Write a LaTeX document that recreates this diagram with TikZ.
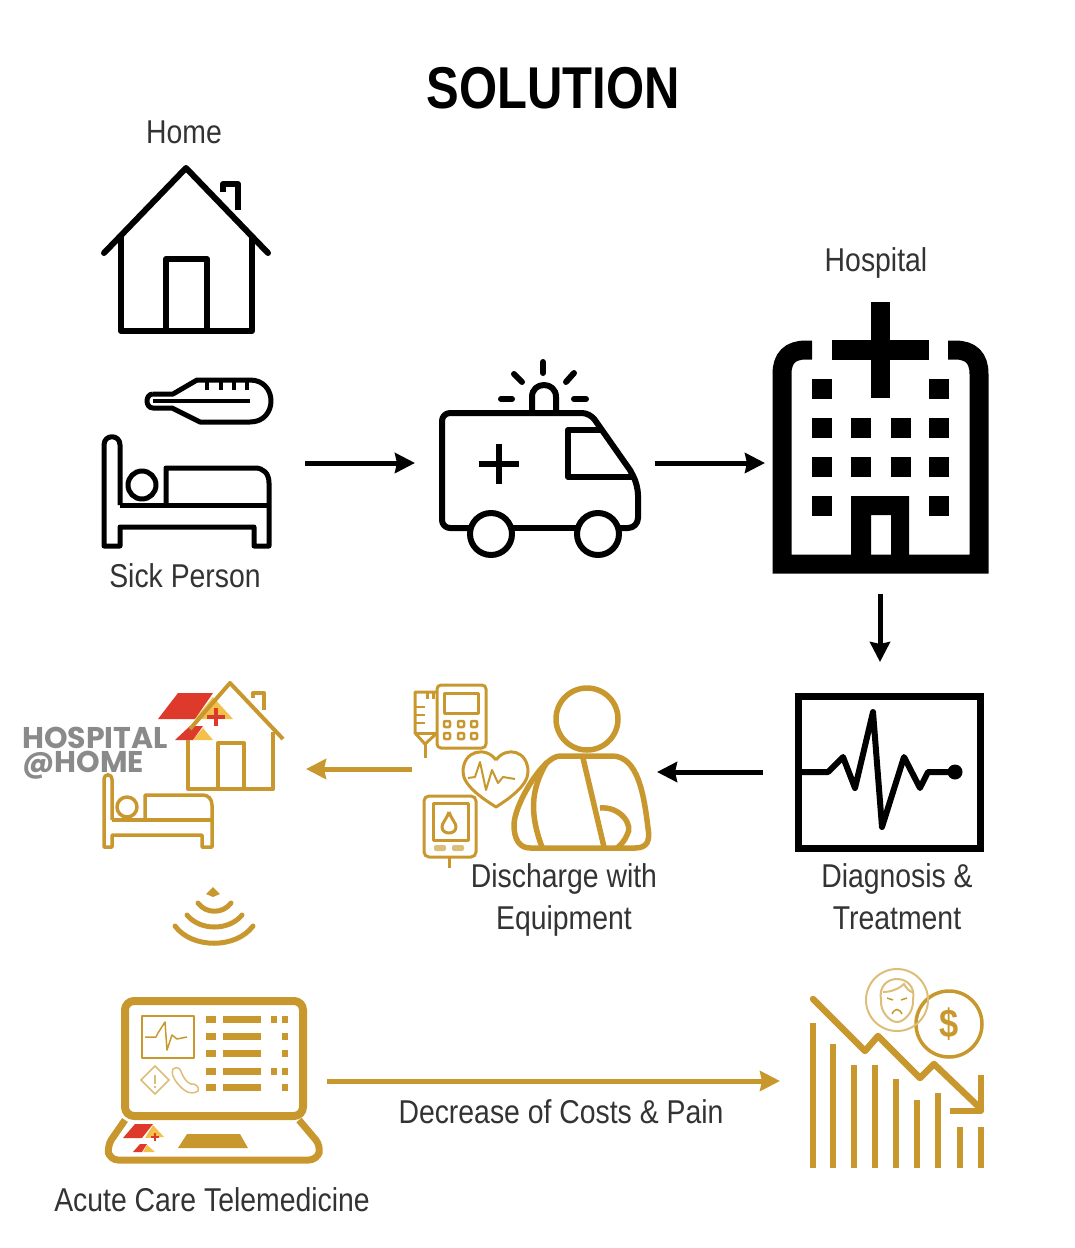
\documentclass[tikz,border=0pt]{standalone}
\usepackage{fontspec}
\usetikzlibrary{arrows.meta}
\setmainfont[FakeStretch=0.86]{Liberation Sans}
\newfontfamily\titlefont[FakeStretch=0.83]{Liberation Sans}
\newfontfamily\logofont{Poppins}
\definecolor{gold}{HTML}{C8982F}
\definecolor{paleGold}{HTML}{DDBE78}
\definecolor{roofRed}{HTML}{DD3A2C}
\definecolor{roofYellow}{HTML}{F3C14B}
\definecolor{labelGrey}{HTML}{333333}
\definecolor{logoGrey}{HTML}{8A8A8A}

\begin{document}
\begin{tikzpicture}[
  x=1pt,
  y=-1pt,
  iconbox/.style={
    inner sep=0pt,
    outer sep=0pt
  },
  caption/.style={
    inner sep=0pt,
    align=center,
    text=labelGrey,
    font=\fontsize{33}{42}\selectfont
  },
  icon/.style={
    line width=6pt,
    line join=round
  },
  goldicon/.style={
    draw=gold,
    line width=4pt,
    line join=round
  },
  flow/.style={
    -{Stealth[length=20pt,width=20pt,inset=2pt]},
    line width=5pt
  }
]

\path[use as bounding box] (0,0) rectangle (1075,1248);

\node[inner sep=0pt, font=\titlefont\fontsize{59}{59}\selectfont\bfseries] (title) at (553,88) {SOLUTION};

\node[caption] (homelabel) at (184,132) {Home};
\node[caption] (hospitallabel) at (876,263) {Hospital};
\node[caption] (sicklabel) at (185,576) {Sick Person};
\node[caption] (dischargelabel) at (564,900) {Discharge with\\Equipment};
\node[caption] (diagnosislabel) at (897,897) {Diagnosis \&\\Treatment};
\node[caption] (costlabel) at (561,1112) {Decrease of Costs \& Pain};
\node[caption] (telelabel) at (212,1200) {Acute Care Telemedicine};

\node[iconbox, minimum width=236pt, minimum height=50pt] (sick) at (187,463) {};
\node[iconbox, minimum width=240pt, minimum height=50pt] (ambulance) at (535,463) {};
\node[iconbox, minimum width=230pt, minimum height=262pt] (hospital) at (880,463) {};
\node[iconbox, minimum width=234pt, minimum height=220pt] (monitor) at (880,772) {};
\node[iconbox, minimum width=245pt, minimum height=40pt] (patient) at (534.5,772) {};
\node[iconbox, minimum width=200pt, minimum height=40pt] (athome) at (206,772) {};
\node[iconbox, minimum width=220pt, minimum height=40pt] (laptop) at (217,1081) {};
\node[iconbox, minimum width=200pt, minimum height=40pt] (chart) at (880,1081) {};

\draw[flow] (sick) -- (ambulance);
\draw[flow] (ambulance) -- (hospital);
\draw[flow] (hospital) -- (monitor);
\draw[flow] (monitor) -- (patient);
\draw[flow, gold] ([yshift=3pt]patient.west) -- ([yshift=3pt]athome.east);
\draw[flow, gold] (laptop) -- (chart);

% home
\draw[icon, line cap=round] (104,253) -- (186,168) -- (268,253);
\draw[icon] (121,235) -- (121,331) -- (252,331) -- (252,235);
\draw[icon] (166,331) -- (166,259) -- (207,259) -- (207,331);
\draw[icon] (223,192) -- (223,184) -- (238,184) -- (238,210);

% thermometer
\draw[icon, line width=5pt] (153,394) -- (173,394) -- (197,380) -- (250,380)
  .. controls (278,380) and (278,422) .. (250,422) -- (200,422) -- (172,408) -- (153,408)
  .. controls (145,408) and (145,394) .. (153,394);
\draw[line width=4pt] (153,401) -- (250,401);
\foreach \tickx in {207,221,234,247} {
  \draw[line width=4pt] (\tickx,380) -- (\tickx,390);
}

% bed
\draw[icon, line width=5pt] (120,505) -- (120,445) .. controls (120,434) and (104,434) .. (104,445)
  -- (104,546) -- (120,546) -- (120,527) -- (254,527) -- (254,546) -- (269,546) -- (269,483)
  .. controls (269,473) and (263,468) .. (255,468) -- (166,468) -- (166,505);
\draw[icon, line width=5pt] (120,505) -- (269,505);
\draw[icon, line width=5pt] (142,485) circle[radius=14];

% ambulance
\draw[icon] [rounded corners=8pt] (470,528) -- (442,528) -- (442,413) -- (590,413) [sharp corners] -- (630,470)
  [rounded corners=10pt] -- (638,485) -- (638,528) -- (618,528);
\draw[icon] (510,528) -- (578,528);
\draw[icon] (491,534) circle[radius=21];
\draw[icon] (598,534) circle[radius=21];
\draw[icon] (601,430) -- (568,430) -- (568,477) -- (633,477);
\draw[icon] (479,464) -- (519,464);
\draw[icon] (499,444) -- (499,484);
\draw[icon] (532,413) -- (532,397) .. controls (532,381) and (556,381) .. (556,397) -- (556,413);
\draw[icon, line cap=round] (543,362) -- (543,373);
\draw[icon, line cap=round] (514,374) -- (522,382);
\draw[icon, line cap=round] (574,373) -- (566,382);
\draw[icon, line cap=round] (501,399) -- (512,399);
\draw[icon, line cap=round] (574,399) -- (586,399);

% hospital
\draw[line width=19pt] (812,350) -- (806,350) .. controls (790,350) and (782,358) .. (782,374)
  -- (782,564) -- (979,564) -- (979,374) .. controls (979,358) and (971,350) .. (955,350) -- (948,350);
\fill (832,340) rectangle (929,360);
\fill (871,302) rectangle (890,398);
\foreach \winx/\winy in {812/379,929/379,812/418,851/418,891/418,929/418,812/457,851/457,891/457,929/457,812/496,929/496} {
  \fill (\winx,\winy) rectangle ++(19.5,19.5);
}
\fill[even odd rule] (851,496) rectangle (909,560) (871,515) rectangle (891,555);

% monitor
\draw[line width=7pt] (798,696) rectangle (980,848);
\draw[line width=6pt, line join=round] (800,772) -- (828,772) -- (843,757) -- (855,788) -- (873,712) -- (882,827)
  -- (904,757) -- (920,788) -- (928,772) -- (955,772);
\fill (955,772) circle[radius=7.5];

% patient
\draw[goldicon, line width=5.5pt] (587,719) circle[radius=31];
\draw[goldicon, line width=5.5pt] (530,848) -- (635,848) .. controls (648,848) and (650,840) .. (648,828)
  .. controls (644,795) and (638,756) .. (612,756) -- (560,756)
  .. controls (543,756) and (514,805) .. (514,825) .. controls (514,840) and (520,848) .. (530,848);
\draw[goldicon, line width=5.5pt] (547,762) .. controls (530,790) and (530,815) .. (542,847);
\draw[goldicon, line width=5.5pt] (583,758) -- (604,847);
\draw[goldicon, line width=5.5pt] (600,808) .. controls (620,806) and (634,825) .. (627,835) .. controls (625,840) and (621,845) .. (617,848);

% infusion pump
\draw[goldicon, line width=3pt, rounded corners=4pt] (437,685) rectangle (486,748);
\draw[goldicon, line width=3pt] (444,693) rectangle (478,713);
\foreach \btnx in {447,461,474} {
  \foreach \btny in {724,736} {
    \draw[goldicon, line width=2.5pt, rounded corners=1pt] (\btnx-3,\btny-3) rectangle (\btnx+3,\btny+3);
  }
}
\draw[goldicon, line width=3pt] (437,692) -- (415,692) -- (415,733) -- (425,744) -- (437,733);
\draw[goldicon, line width=3pt] (415,733) -- (437,733);
\draw[goldicon, line width=3pt] (425,744) -- (425,758);
\draw[goldicon, line width=3pt] (427,692) -- (427,699) (433,692) -- (433,699);
\foreach \marky in {707,715,723} {
  \draw[goldicon, line width=2.5pt] (415,\marky) -- (425,\marky);
}

% heart
\draw[goldicon, line width=3pt] (496,760) .. controls (486,746) and (463,750) .. (463,772)
  .. controls (463,786) and (485,800) .. (496,807) .. controls (507,800) and (528,786) .. (528,772)
  .. controls (528,750) and (506,746) .. (496,760);
\draw[goldicon, line width=2pt] (468,778) -- (475,777) -- (480,762) -- (486,790) -- (492,770) -- (498,783) -- (503,777) -- (515,779);

% glucose meter
\draw[goldicon, line width=3pt, rounded corners=5pt] (424,796) rectangle (476,857);
\draw[goldicon, line width=3pt] (433,803) rectangle (468,840);
\draw[goldicon, line width=3pt] (449,812) .. controls (446,820) and (442,823) .. (442,827) .. controls (442,835) and (456,835) .. (456,827) .. controls (456,823) and (452,820) .. (449,812);
\fill[paleGold, rounded corners=2pt] (434,845) rectangle (446,851);
\fill[paleGold, rounded corners=2pt] (452,845) rectangle (464,851);
\draw[goldicon, line width=3pt] (449,857) -- (449,868);

% hospital at home
\fill[roofRed] (158,719) -- (178,693) -- (213,693) -- (195,719) -- cycle;
\fill[roofRed] (175,740) -- (190,726) -- (203,726) -- (193,740) -- cycle;
\fill[roofYellow] (213,697) -- (233,719) -- (195,719) -- cycle;
\fill[roofYellow] (203,728) -- (213,740) -- (193,740) -- cycle;
\draw[roofRed, line width=3.5pt] (207,717) -- (225,717) (216,708) -- (216,726);
\draw[goldicon] (190,729) -- (230,683) -- (283,739);
\draw[goldicon] (188,740) -- (188,789) -- (273,789) -- (273,732);
\draw[goldicon] (218,789) -- (218,743) -- (244,743) -- (244,789);
\draw[goldicon] (253,698) -- (253,693) -- (264,693) -- (264,710);
\node[inner sep=0pt, anchor=north west, align=left, text=logoGrey, font=\logofont\bfseries\fontsize{30}{24}\selectfont] (logo) at (22,727) {HOSPITAL\\@HOME};
\draw[goldicon, line width=3.5pt] (112,820) -- (112,780) .. controls (112,773) and (104,773) .. (104,780)
  -- (104,847) -- (112,847) -- (112,835) -- (202,835) -- (202,847) -- (212,847) -- (212,805)
  .. controls (212,799) and (208,795) .. (203,795) -- (145,795) -- (145,820);
\draw[goldicon, line width=3.5pt] (112,820) -- (212,820);
\draw[goldicon, line width=3.5pt] (127,807) circle[radius=10];

% wifi
\fill[gold] (213,887) -- (220,894) -- (213,897) -- (206,894) -- cycle;
\draw[goldicon, line width=5pt, line cap=round] (198,903) .. controls (206,914) and (223,914) .. (231,903);
\draw[goldicon, line width=5pt, line cap=round] (187,915) .. controls (200,931) and (229,931) .. (242,915);
\draw[goldicon, line width=5pt, line cap=round] (175,926) .. controls (192,949) and (236,949) .. (253,926);

% laptop
\draw[goldicon, line width=8pt, rounded corners=9pt] (125,1001) rectangle (303,1116);
\draw[goldicon, line width=7pt, rounded corners=8pt] (125,1120) -- (107,1146) -- (110,1160) -- (317,1160) -- (321,1146) -- (299,1120);
\fill[gold] (187,1134) -- (240,1134) -- (248,1148) -- (178,1148) -- cycle;
\draw[goldicon, line width=2pt] (142,1016) rectangle (194,1058);
\draw[goldicon, line width=1.5pt] (145,1037) -- (156,1037) -- (158,1033) -- (165,1022) -- (167,1050) -- (172,1035) -- (177,1039) -- (187,1037);
\foreach \rowy in {1019,1036,1053,1071,1087} {
  \draw[gold, line width=7pt] (206,\rowy) -- (216,\rowy);
  \draw[gold, line width=7pt] (223,\rowy) -- (261,\rowy);
  \draw[gold, line width=7pt] (282,\rowy) -- (288,\rowy);
}
\foreach \rowy in {1019,1071} {
  \draw[gold, line width=7pt] (271,\rowy) -- (277,\rowy);
}
\draw[paleGold, line width=1.5pt] (155,1066) -- (169,1080) -- (155,1094) -- (141,1080) -- cycle;
\draw[paleGold, line width=1.5pt] (155,1075) -- (155,1084) (155,1086) -- (155,1088);
\draw[paleGold, line width=1.5pt] (173,1069) .. controls (178,1065) and (181,1070) .. (182,1074) .. controls (184,1078) and (187,1083) .. (191,1084) .. controls (195,1083) and (200,1087) .. (198,1091) .. controls (190,1096) and (183,1090) .. (178,1084) .. controls (173,1078) and (171,1073) .. (173,1069);
\fill[roofRed] (123,1138) -- (135,1124) -- (153,1124) -- (142,1138) -- cycle;
\fill[roofYellow] (153,1125) -- (164,1137) -- (145,1138) -- cycle;
\fill[roofRed] (133,1152) -- (140,1144) -- (147,1144) -- (142,1152) -- cycle;
\fill[roofYellow] (147,1145) -- (155,1152) -- (143,1152) -- cycle;
\draw[roofRed, line width=1.5pt] (151,1137) -- (159,1137) (155,1133) -- (155,1141);

% cost chart
\foreach \barx/\bartop in {813/1023,833/1044,854/1065,875/1065,896/1079,917/1100,938/1093,960/1127,981/1127} {
  \draw[gold, line width=6pt] (\barx,\bartop) -- (\barx,1168);
}
\draw[goldicon, line width=6.5pt, line cap=round] (813,999) -- (865,1051) -- (878,1036) -- (920,1078) -- (934,1064) -- (980,1108);
\draw[goldicon, line width=6pt] (981,1075) -- (981,1111) -- (950,1111);
\draw[goldicon, line width=3.5pt] (949,1024) circle[radius=33];
\node[inner sep=0pt, text=gold, font=\fontsize{40}{40}\selectfont\bfseries] (dollar) at (949,1024) {\$};
\draw[paleGold, line width=2pt] (897,1000) circle[radius=31];
\draw[paleGold, line width=2pt] (881,1000) .. controls (876,972) and (918,972) .. (913,1000) .. controls (914,1012) and (904,1022) .. (897,1022) .. controls (890,1022) and (880,1012) .. (881,1000);
\draw[paleGold, line width=2pt] (883,992) .. controls (892,992) and (900,988) .. (904,984) .. controls (906,988) and (909,991) .. (912,992);
\draw[gold, line width=1.5pt] (887,998) -- (893,1000) (907,998) -- (901,1000) (892,1014) .. controls (895,1008) and (899,1008) .. (902,1014);

\end{tikzpicture}
\end{document}
